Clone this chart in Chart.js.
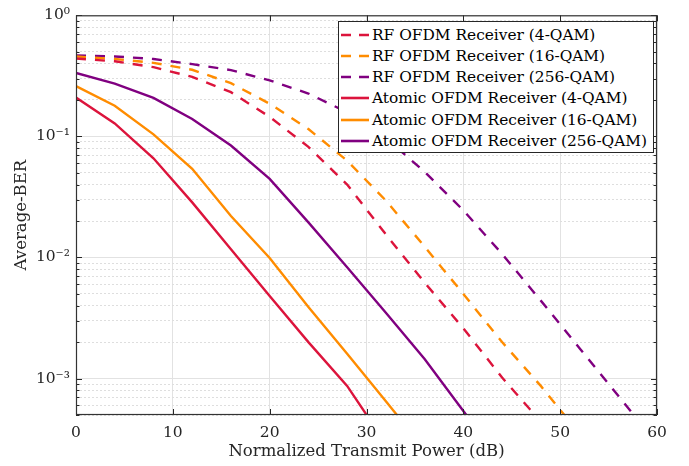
<!DOCTYPE html>
<html><head><meta charset="utf-8">
<script src="https://cdn.jsdelivr.net/npm/chart.js@4.4.1/dist/chart.umd.min.js"></script>
<style>
html,body{margin:0;padding:0;background:#fff;}
#wrap{position:relative;width:689px;height:466px;}
#legend{position:absolute;left:338px;top:21px;width:316px;height:132px;background:#fff;border:1px solid #262626;box-sizing:border-box;font-family:'DejaVu Serif',serif;font-size:15.4px;color:#000;}
.row{position:absolute;left:0;height:21px;display:flex;align-items:center;white-space:nowrap;}
.row svg{display:block;margin-left:2px;margin-right:3px;}
</style></head>
<body><div id="wrap"><canvas id="c" width="689" height="466"></canvas><div id="legend"></div></div>
<script>
// ---- data ----
const xValues = [0, 4, 8, 12, 16, 20, 24, 28, 32, 36, 40, 44, 48, 52, 56, 60];
const rf4   = [0.44, 0.417, 0.373, 0.31, 0.232, 0.145, 0.082, 0.040, 0.0155, 0.0062, 0.0026, 0.00102, 0.00044, 0.00017];
const rf16  = [0.457, 0.436, 0.405, 0.355, 0.275, 0.186, 0.115, 0.063, 0.0295, 0.0123, 0.005, 0.002, 0.00087, 0.00035];
const rf256 = [0.465, 0.457, 0.436, 0.395, 0.353, 0.29, 0.226, 0.158, 0.097, 0.051, 0.0245, 0.0107, 0.0044, 0.00178, 0.00072, 0.00029];
const at4   = [0.209, 0.128, 0.066, 0.0285, 0.0117, 0.0048, 0.002, 0.00087, 0.00029];
const at16  = [0.26, 0.179, 0.104, 0.054, 0.022, 0.0099, 0.0039, 0.0016, 0.00065, 0.00026];
const at256 = [0.334, 0.273, 0.208, 0.139, 0.084, 0.0445, 0.0195, 0.0083, 0.0035, 0.00145, 0.00054, 0.0002];
const seriesLabels = [
  'RF OFDM Receiver (4-QAM)', 'RF OFDM Receiver (16-QAM)', 'RF OFDM Receiver (256-QAM)',
  'Atomic OFDM Receiver (4-QAM)', 'Atomic OFDM Receiver (16-QAM)', 'Atomic OFDM Receiver (256-QAM)'
];
const xTickValues = [0, 10, 20, 30, 40, 50, 60];
const yMajorValues = [1e-3, 1e-2, 1e-1, 1];
const yTickLabels = ['10\u207B\u00B3', '10\u207B\u00B2', '10\u207B\u00B9', '10\u2070'];
const yMinorMantissas = [2, 3, 4, 5, 6, 7, 8, 9];

// ---- style ----
const RED = '#DC143C', ORANGE = '#FF8C00', PURPLE = '#800080';
const seriesValues = [rf4, rf16, rf256, at4, at16, at256];
const seriesColors = [RED, ORANGE, PURPLE, RED, ORANGE, PURPLE];
const seriesDashed = [true, true, true, false, false, false];
const DASH = [10, 9];
const FONT = "'DejaVu Serif', serif";
const TXT = '#262626';

function isMajor(v) { const l = Math.log10(v); return Math.abs(l - Math.round(l)) < 1e-6; }
const yTickValues = [];
[-4, -3, -2, -1].forEach(e => {
  yMinorMantissas.forEach(m => {
    const v = Number((m * Math.pow(10, e)).toPrecision(3));
    if (v >= 5e-4 && v <= 1) yTickValues.push(v);
  });
});
yMajorValues.forEach(v => yTickValues.push(v));
yTickValues.sort((a, b) => a - b);

const datasets = seriesValues.map((vals, i) => ({
  label: seriesLabels[i],
  data: vals.map((v, j) => ({ x: xValues[j], y: v })),
  borderColor: seriesColors[i],
  backgroundColor: seriesColors[i],
  borderWidth: 2.4,
  borderDash: seriesDashed[i] ? DASH : [],
  pointRadius: 0,
  tension: 0,
  fill: false,
  clip: 0
}));

const framePlugin = {
  id: 'frame',
  afterDatasetsDraw(chart) {
    const { ctx, chartArea: a, scales: { x, y } } = chart;
    ctx.save();
    ctx.strokeStyle = '#262626';
    ctx.lineWidth = 1;
    ctx.beginPath();
    x.ticks.forEach(t => {
      const px = Math.round(x.getPixelForValue(t.value)) + 0.5;
      ctx.moveTo(px, a.bottom); ctx.lineTo(px, a.bottom - 6);
      ctx.moveTo(px, a.top); ctx.lineTo(px, a.top + 6);
    });
    y.ticks.forEach(t => {
      const py = Math.round(y.getPixelForValue(t.value)) + 0.5;
      const L = isMajor(t.value) ? 6 : 3.5;
      ctx.moveTo(a.left, py); ctx.lineTo(a.left + L, py);
      ctx.moveTo(a.right, py); ctx.lineTo(a.right - L, py);
    });
    ctx.stroke();
    ctx.lineWidth = 1.2;
    ctx.strokeStyle = '#333';
    ctx.strokeRect(a.left + 0.5, a.top + 0.5, a.right - a.left - 1, a.bottom - a.top - 1);
    ctx.restore();
  }
};

new Chart(document.getElementById('c'), {
  type: 'line',
  data: { datasets },
  options: {
    responsive: false,
    animation: false,
    devicePixelRatio: 1,
    layout: { padding: { top: 15, right: 32, left: 0, bottom: 0 } },
    plugins: { legend: { display: false }, tooltip: { enabled: false } },
    scales: {
      x: {
        type: 'linear', min: 0, max: 60,
        afterBuildTicks: s => { s.ticks = xTickValues.map(v => ({ value: v })); },
        afterFit: s => { s.height = 51; },
        ticks: { font: { family: FONT, size: 15.5 }, color: TXT, padding: 9, maxRotation: 0 },
        grid: { color: '#e2e2e2', lineWidth: 1, drawTicks: false },
        border: { display: false },
        title: { display: true, text: 'Normalized Transmit Power (dB)', font: { family: FONT, size: 16.5 }, color: TXT, padding: { top: 0, bottom: 4 } }
      },
      y: {
        type: 'logarithmic', min: 5e-4, max: 1,
        afterBuildTicks: s => { s.ticks = yTickValues.map(v => ({ value: v, major: isMajor(v) })); },
        afterFit: s => { s.width = 76; },
        ticks: {
          autoSkip: false,
          font: { family: FONT, size: 15.5 }, color: TXT, padding: 6,
          callback: (v) => { const k = yMajorValues.findIndex(m => Math.abs(m - v) / m < 1e-6); return k >= 0 ? yTickLabels[k] : ''; }
        },
        grid: {
          color: c => (c.tick && !isMajor(c.tick.value)) ? '#dedede' : '#e2e2e2',
          lineWidth: 1, drawTicks: false,
          borderDash: c => (c.tick && !isMajor(c.tick.value)) ? [2, 2] : []
        },
        border: { display: false, dash: c => (c.tick && !isMajor(c.tick.value)) ? [2, 2] : [] },
        title: { display: true, text: 'Average-BER', font: { family: FONT, size: 16.5 }, color: TXT, padding: { top: 12, bottom: 0 } }
      }
    }
  },
  plugins: [framePlugin]
});

// ---- legend (HTML text) ----
const leg = document.getElementById('legend');
const rowTops = 2;
seriesLabels.forEach((lab, i) => {
  const row = document.createElement('div');
  row.className = 'row';
  row.style.top = (rowTops + i * 21.3) + 'px';
  const svgNS = 'http://www.w3.org/2000/svg';
  const svg = document.createElementNS(svgNS, 'svg');
  svg.setAttribute('width', '28'); svg.setAttribute('height', '6');
  const ln = document.createElementNS(svgNS, 'line');
  ln.setAttribute('x1', '0'); ln.setAttribute('x2', '28'); ln.setAttribute('y1', '3'); ln.setAttribute('y2', '3');
  ln.setAttribute('stroke', seriesColors[i]); ln.setAttribute('stroke-width', '2.6');
  if (seriesDashed[i]) ln.setAttribute('stroke-dasharray', '10,8');
  svg.appendChild(ln);
  row.appendChild(svg);
  const sp = document.createElement('span');
  sp.textContent = lab;
  row.appendChild(sp);
  leg.appendChild(row);
});
</script>
</body></html>
